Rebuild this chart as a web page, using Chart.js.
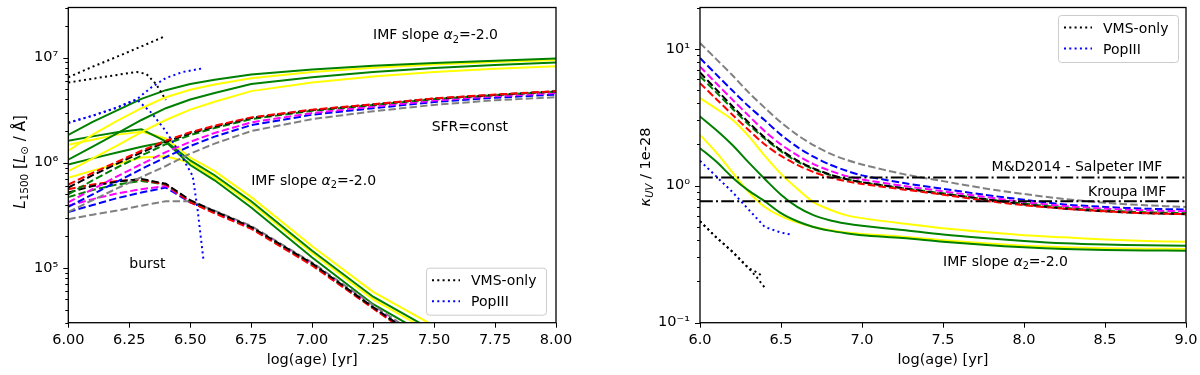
<!DOCTYPE html>
<html>
<head>
<meta charset="utf-8">
<script src="https://cdn.jsdelivr.net/npm/chart.js@4.4.0/dist/chart.umd.min.js"></script>
<style>
  html, body { margin: 0; padding: 0; background: #fff; }
  #wrap { position: relative; width: 1200px; height: 375px; }
  canvas { position: absolute; top: 0; }
  #cL { left: 0; }
  #cR { left: 600px; }
</style>
</head>
<body>
<div id="wrap">
  <canvas id="cL" width="600" height="375"></canvas>
  <canvas id="cR" width="600" height="375"></canvas>
</div>
<script>
// ---------------- DATA : left panel (L1500) ----------------
const LEFT_X_TICKS = [6.0, 6.25, 6.5, 6.75, 7.0, 7.25, 7.5, 7.75, 8.0];
const LEFT_Y_TICKS = [3e4,4e4,5e4,6e4,7e4,8e4,9e4,1e5,2e5,3e5,4e5,5e5,6e5,7e5,8e5,9e5,
                      1e6,2e6,3e6,4e6,5e6,6e6,7e6,8e6,9e6,1e7,2e7,3e7];

const AGE_CONST = [6.0, 6.1, 6.2, 6.3, 6.4, 6.5, 6.6, 6.75, 7.0, 7.25, 7.5, 7.75, 8.0];
const L_CONST_RED     = [6.2e5, 8.0e5, 1.02e6, 1.3e6, 1.62e6, 1.95e6, 2.25e6, 2.7e6, 3.2e6, 3.6e6, 4.1e6, 4.45e6, 4.8e6];
const L_CONST_BLACK   = [5.8e5, 7.6e5, 9.8e5, 1.25e6, 1.58e6, 1.9e6, 2.2e6, 2.67e6, 3.17e6, 3.58e6, 4.07e6, 4.42e6, 4.78e6];
const L_CONST_GREEN   = [5.0e5, 6.8e5, 9.0e5, 1.17e6, 1.5e6, 1.83e6, 2.14e6, 2.6e6, 3.12e6, 3.54e6, 4.03e6, 4.4e6, 4.75e6];
const L_CONST_MAGENTA = [4.2e5, 5.6e5, 7.4e5, 9.7e5, 1.26e6, 1.58e6, 1.92e6, 2.42e6, 2.97e6, 3.42e6, 3.9e6, 4.28e6, 4.6e6];
const L_CONST_BLUE    = [3.8e5, 5.0e5, 6.6e5, 8.7e5, 1.13e6, 1.44e6, 1.77e6, 2.28e6, 2.86e6, 3.3e6, 3.78e6, 4.15e6, 4.45e6];
const L_CONST_GRAY    = [3.4e5, 4.4e5, 5.7e5, 7.3e5, 9.3e5, 1.22e6, 1.52e6, 2.0e6, 2.6e6, 3.08e6, 3.55e6, 3.93e6, 4.2e6];
const L_CONST_GREEN_A  = [1.84e6, 2.45e6, 3.15e6, 4.05e6, 4.9e6, 5.6e6, 6.15e6, 6.9e6, 7.7e6, 8.35e6, 8.9e6, 9.35e6, 9.8e6];
const L_CONST_YELLOW_A = [1.3e6, 1.85e6, 2.5e6, 3.3e6, 4.2e6, 4.95e6, 5.55e6, 6.35e6, 7.3e6, 8.0e6, 8.6e6, 9.1e6, 9.5e6];
const L_CONST_GREEN_B  = [1.07e6, 1.42e6, 1.9e6, 2.55e6, 3.3e6, 4.0e6, 4.6e6, 5.6e6, 6.5e6, 7.3e6, 7.95e6, 8.5e6, 9.0e6];
const L_CONST_YELLOW_B = [8.3e5, 1.1e6, 1.45e6, 1.95e6, 2.55e6, 3.2e6, 3.8e6, 4.8e6, 5.8e6, 6.6e6, 7.3e6, 7.85e6, 8.3e6];

const AGE_BURST = [6.0, 6.1, 6.2, 6.3, 6.4, 6.5, 6.6, 6.75, 7.0, 7.25, 7.5];
const L_BURST_RED     = [5.6e5, 6.2e5, 6.7e5, 6.9e5, 6.2e5, 4.2e5, 3.3e5, 2.35e5, 1.05e5, 4.1e4, 1.6e4];
const L_BURST_BLACK   = [5.2e5, 6.0e5, 6.6e5, 7.0e5, 6.3e5, 4.4e5, 3.45e5, 2.45e5, 1.1e5, 4.2e4, 1.7e4];
const L_BURST_GREEN   = [4.7e5, 5.5e5, 6.2e5, 6.7e5, 6.2e5, 4.3e5, 3.4e5, 2.4e5, 1.08e5, 4.15e4, 1.65e4];
const L_BURST_MAGENTA = [3.9e5, 4.5e5, 5.1e5, 5.6e5, 6.0e5, 4.3e5, 3.4e5, 2.4e5, 1.08e5, 4.2e4, 1.7e4];
const L_BURST_BLUE    = [3.4e5, 3.95e5, 4.6e5, 5.2e5, 5.8e5, 4.2e5, 3.35e5, 2.4e5, 1.08e5, 4.2e4, 1.7e4];
const L_BURST_GRAY    = [2.9e5, 3.2e5, 3.5e5, 3.9e5, 4.3e5, 4.3e5, 3.5e5, 2.5e5, 1.12e5, 4.4e4, 1.8e4];
const L_BURST_GREEN_1  = [1.62e6, 1.78e6, 1.95e6, 2.08e6, 1.6e6, 1.05e6, 7.6e5, 4.3e5, 1.45e5, 5.3e4, 2.5e4];
const L_BURST_YELLOW_1 = [1.48e6, 1.65e6, 1.85e6, 1.97e6, 1.7e6, 1.12e6, 8.3e5, 4.7e5, 1.6e5, 5.9e4, 2.8e4];
const L_BURST_GREEN_2  = [9.6e5, 1.1e6, 1.25e6, 1.42e6, 1.58e6, 9.5e5, 6.8e5, 3.75e5, 1.25e5, 4.5e4, 2.1e4];
const L_BURST_YELLOW_2 = [7.2e5, 8.4e5, 9.7e5, 1.12e6, 1.15e6, 1.0e6, 7.2e5, 4.1e5, 1.38e5, 5.0e4, 2.35e4];

const AGE_VMS_CONST = [6.0, 6.1, 6.2, 6.3, 6.4];
const L_VMS_CONST   = [6.5e6, 8.2e6, 1.02e7, 1.28e7, 1.61e7];
const AGE_VMS_BURST = [6.0, 6.1, 6.2, 6.28, 6.32, 6.36, 6.4];
const L_VMS_BURST   = [5.8e6, 6.3e6, 6.85e6, 7.3e6, 7.0e6, 5.6e6, 3.95e6];
const AGE_POP_CONST = [6.0, 6.1, 6.2, 6.28, 6.34, 6.4, 6.47, 6.55];
const L_POP_CONST   = [2.4e6, 2.8e6, 3.35e6, 4.0e6, 5.2e6, 6.4e6, 7.3e6, 7.9e6];
const AGE_POP_BURST = [6.0, 6.1, 6.2, 6.28, 6.34, 6.4, 6.46, 6.51, 6.53, 6.555];
const L_POP_BURST   = [2.4e6, 2.8e6, 3.35e6, 4.0e6, 3.0e6, 2.0e6, 1.2e6, 7.5e5, 3.6e5, 1.15e5];

// ---------------- DATA : right panel (kappa_UV / 1e-28) ----------------
const RIGHT_X_TICKS = [6.0, 6.5, 7.0, 7.5, 8.0, 8.5, 9.0];
const RIGHT_Y_TICKS = [0.1,0.2,0.3,0.4,0.5,0.6,0.7,0.8,0.9,1,2,3,4,5,6,7,8,9,10,20];
const AGE_K = [6.0, 6.1, 6.2, 6.3, 6.4, 6.5, 6.6, 6.7, 6.8, 6.9, 7.0, 7.25, 7.5, 7.75, 8.0, 8.25, 8.5, 8.75, 9.0];
const K_RED     = [5.6, 4.3, 3.3, 2.55, 2.0, 1.65, 1.42, 1.26, 1.15, 1.08, 1.03, 0.94, 0.86, 0.78, 0.72, 0.68, 0.65, 0.63, 0.62];
const K_GREEN   = [6.3, 4.8, 3.65, 2.8, 2.2, 1.78, 1.5, 1.32, 1.2, 1.12, 1.06, 0.96, 0.88, 0.80, 0.74, 0.69, 0.66, 0.64, 0.63];
const K_BLACK   = [6.7, 5.05, 3.8, 2.9, 2.25, 1.82, 1.53, 1.34, 1.21, 1.12, 1.06, 0.96, 0.87, 0.80, 0.73, 0.68, 0.65, 0.63, 0.62];
const K_MAGENTA = [7.4, 5.6, 4.25, 3.25, 2.5, 2.0, 1.67, 1.44, 1.29, 1.18, 1.11, 1.0, 0.91, 0.83, 0.76, 0.71, 0.68, 0.66, 0.65];
const K_BLUE    = [8.55, 6.5, 4.95, 3.8, 3.0, 2.35, 1.92, 1.63, 1.43, 1.29, 1.19, 1.05, 0.95, 0.86, 0.79, 0.73, 0.70, 0.68, 0.67];
const K_GRAY    = [11, 8.4, 6.4, 4.8, 3.7, 2.9, 2.35, 1.98, 1.72, 1.55, 1.43, 1.22, 1.08, 0.96, 0.87, 0.80, 0.75, 0.72, 0.70];
const K_YELLOW_1 = [4.37, 3.65, 3.03, 2.3, 1.65, 1.22, 0.95, 0.76, 0.67, 0.61, 0.58, 0.53, 0.49, 0.46, 0.435, 0.42, 0.405, 0.395, 0.39];
const K_GREEN_1  = [3.2, 2.55, 1.98, 1.48, 1.12, 0.86, 0.70, 0.61, 0.56, 0.53, 0.51, 0.475, 0.44, 0.415, 0.395, 0.38, 0.372, 0.368, 0.365];
const K_YELLOW_2 = [2.35, 1.75, 1.25, 0.9, 0.7, 0.6, 0.54, 0.5, 0.475, 0.455, 0.445, 0.425, 0.4, 0.38, 0.365, 0.355, 0.35, 0.347, 0.345];
const K_GREEN_2  = [1.88, 1.5, 1.15, 0.92, 0.77, 0.63, 0.55, 0.5, 0.47, 0.45, 0.435, 0.415, 0.39, 0.37, 0.355, 0.345, 0.34, 0.337, 0.335];
const AGE_K_VMS_1 = [6.0, 6.1, 6.2, 6.3, 6.36, 6.38];
const K_VMS_1     = [0.55, 0.42, 0.33, 0.25, 0.23, 0.22];
const AGE_K_VMS_2 = [6.0, 6.1, 6.2, 6.3, 6.35, 6.4];
const K_VMS_2     = [0.55, 0.42, 0.33, 0.25, 0.215, 0.18];
const AGE_K_POP = [6.0, 6.1, 6.2, 6.3, 6.4, 6.5, 6.56];
const K_POP     = [1.52, 1.17, 0.9, 0.67, 0.5, 0.455, 0.44];
const AGE_REF   = [6.0, 9.0];
const K_SALPETER = [1.15, 1.15];
const K_KROUPA   = [0.77, 0.77];

// ---------------- helpers ----------------
const FONT = 'DejaVu Sans';
const FS = 14.5;   // axis font size
const TS = 14;     // annotation / legend font size
const DASH = [7.4, 3.2], DOT = [2, 3.3], DASHDOT = [12.8, 3.2, 2, 3.2];
const COL = { red:'#ff0000', black:'#000000', green:'#008000', magenta:'#ff00ff', blue:'#0000ff',
              gray:'#808080', yellow:'#ffff00' };
function pts(xs, ys) { return xs.map((x, i) => ({ x: x, y: ys[i] })); }
function ds(xs, ys, color, dash, extra) {
  return Object.assign({ data: pts(xs, ys), borderColor: color, backgroundColor: color,
    borderDash: dash || [], borderWidth: 2, pointRadius: 0, fill: false, tension: 0,
    borderCapStyle: 'butt', clip: 0 }, extra || {});
}
const isMajor = v => Math.abs(Math.log10(v) - Math.round(Math.log10(v))) < 1e-9;
const SUP = {'-':'⁻','0':'⁰','1':'¹','2':'²','3':'³','4':'⁴','5':'⁵','6':'⁶','7':'⁷','8':'⁸','9':'⁹'};
const powLabel = v => '10' + String(Math.round(Math.log10(v))).split('').map(c => SUP[c]).join('');

function drawRich(ctx, segs, x, y, align, base) {
  const b = base || TS;
  let total = 0;
  const fnt = s => (s.it ? 'italic ' : '') + (s.sub ? b * 0.7 : b) + 'px "' + FONT + '"';
  segs.forEach(s => { ctx.font = fnt(s); s.w = ctx.measureText(s.t).width; total += s.w; });
  let cx = align === 'center' ? x - total / 2 : x;
  ctx.textBaseline = 'alphabetic'; ctx.textAlign = 'left'; ctx.fillStyle = '#000';
  segs.forEach(s => { ctx.font = fnt(s); ctx.fillText(s.t, cx, y + (s.sub ? b * 0.22 : 0)); cx += s.w; });
}
const IMF_TEXT = [{t:'IMF slope '}, {t:'α', it:true}, {t:'2', sub:true}, {t:'=-2.0'}];

const decorPlugin = {
  id: 'decor',
  afterDatasetsDraw(chart, args, opts) {
    const ctx = chart.ctx, a = chart.chartArea, xs = chart.scales.x, ys = chart.scales.y;
    ctx.save();
    (opts.texts || []).forEach(tx => {
      drawRich(ctx, tx.segs, xs.getPixelForValue(tx.x), ys.getPixelForValue(tx.y), 'left');
    });
    if (opts.legend) {
      const L = opts.legend;
      const items = chart.data.datasets.filter(d => d.showInLegend);
      const w = 120, h = 47;
      const bx = a.right - L.right - w;
      const by = L.top !== undefined ? a.top + L.top : a.bottom - L.bottom - h;
      ctx.beginPath();
      ctx.roundRect(bx + 0.5, by + 0.5, w, h, 3);
      ctx.fillStyle = 'rgba(255,255,255,0.8)'; ctx.fill();
      ctx.strokeStyle = '#cccccc'; ctx.lineWidth = 1; ctx.stroke();
      items.forEach((d, i) => {
        const yy = by + 12.5 + i * 21;
        ctx.beginPath(); ctx.setLineDash(d.borderDash); ctx.strokeStyle = d.borderColor; ctx.lineWidth = 2;
        ctx.moveTo(bx + 6, yy); ctx.lineTo(bx + 34, yy); ctx.stroke(); ctx.setLineDash([]);
        drawRich(ctx, [{t: d.label}], bx + 45, yy + 5, 'left');
      });
    }
    ctx.strokeStyle = '#000'; ctx.lineWidth = 1.3;
    ctx.strokeRect(a.left, a.top, a.right - a.left, a.bottom - a.top);
    ctx.lineWidth = 1;
    xs.ticks.forEach(t => {
      const px = Math.round(xs.getPixelForValue(t.value)) + 0.5;
      ctx.beginPath(); ctx.moveTo(px, a.bottom); ctx.lineTo(px, a.bottom + 5); ctx.stroke();
    });
    ys.ticks.forEach(t => {
      const py = Math.round(ys.getPixelForValue(t.value)) + 0.5;
      const len = isMajor(t.value) ? 5 : 3;
      ctx.beginPath(); ctx.moveTo(a.left - len, py); ctx.lineTo(a.left, py); ctx.stroke();
    });
    ctx.translate(opts.yTitleX, opts.yTitleY);
    ctx.rotate(-Math.PI / 2);
    drawRich(ctx, opts.yTitle, 0, 5, 'center', opts.yTitleSize);
    ctx.restore();
  }
};

function makeOptions(cfg) {
  return {
    responsive: false, animation: false, devicePixelRatio: 1,
    layout: { padding: { left: 0, right: cfg.padRight, top: 7.5, bottom: 0 } },
    plugins: { legend: { display: false }, tooltip: { enabled: false },
               decor: { texts: cfg.texts, legend: cfg.legend, yTitle: cfg.yTitle, yTitleX: cfg.yTitleX,
                        yTitleY: cfg.yTitleY, yTitleSize: cfg.yTitleSize } },
    scales: {
      x: {
        type: 'linear', min: cfg.xmin, max: cfg.xmax, bounds: 'data',
        afterBuildTicks: s => { s.ticks = cfg.xticks.map(v => ({ value: v })); },
        border: { display: false }, grid: { display: false, drawTicks: false },
        ticks: { color: '#000', font: { family: FONT, size: FS }, padding: 9, maxRotation: 0, autoSkip: false,
                 callback: v => v.toFixed(cfg.xdec) },
        title: { display: true, text: 'log(age) [yr]', color: '#000', font: { family: FONT, size: FS },
                 padding: { top: 0, bottom: 6 } },
        afterFit: s => { s.height = 52.3; s.paddingLeft = 0; s.paddingRight = 0; }
      },
      y: {
        type: 'logarithmic', min: cfg.ymin, max: cfg.ymax, bounds: 'data',
        afterBuildTicks: s => { s.ticks = cfg.yticks.map(v => ({ value: v, major: isMajor(v) })); },
        border: { display: false }, grid: { display: false, drawTicks: false },
        ticks: { color: '#000', font: { family: FONT, size: FS }, padding: 10, autoSkip: false,
                 callback: v => isMajor(v) ? powLabel(v) : '' },
        afterFit: s => { s.width = cfg.yWidth; s.paddingTop = 0; s.paddingBottom = 0; }
      }
    }
  };
}

// ---------------- left chart ----------------
new Chart(document.getElementById('cL'), {
  type: 'line',
  data: { datasets: [
    ds(AGE_VMS_CONST, L_VMS_CONST, COL.black, DOT, { label: 'VMS-only', showInLegend: true }),
    ds(AGE_VMS_BURST, L_VMS_BURST, COL.black, DOT),
    ds(AGE_POP_CONST, L_POP_CONST, COL.blue, DOT, { label: 'PopIII', showInLegend: true }),
    ds(AGE_POP_BURST, L_POP_BURST, COL.blue, DOT),
    ds(AGE_CONST, L_CONST_RED, COL.red, DASH),
    ds(AGE_CONST, L_CONST_BLACK, COL.black, DASH),
    ds(AGE_CONST, L_CONST_GREEN, COL.green, DASH),
    ds(AGE_CONST, L_CONST_MAGENTA, COL.magenta, DASH),
    ds(AGE_CONST, L_CONST_BLUE, COL.blue, DASH),
    ds(AGE_CONST, L_CONST_GRAY, COL.gray, DASH),
    ds(AGE_BURST, L_BURST_BLACK, COL.black, DASH),
    ds(AGE_BURST, L_BURST_RED, COL.red, DASH),
    ds(AGE_BURST, L_BURST_GREEN, COL.green, DASH),
    ds(AGE_BURST, L_BURST_MAGENTA, COL.magenta, DASH),
    ds(AGE_BURST, L_BURST_BLUE, COL.blue, DASH),
    ds(AGE_BURST, L_BURST_GRAY, COL.gray, DASH),
    ds(AGE_CONST, L_CONST_GREEN_A, COL.green),
    ds(AGE_CONST, L_CONST_YELLOW_A, COL.yellow),
    ds(AGE_CONST, L_CONST_GREEN_B, COL.green),
    ds(AGE_CONST, L_CONST_YELLOW_B, COL.yellow),
    ds(AGE_BURST, L_BURST_GREEN_2, COL.green),
    ds(AGE_BURST, L_BURST_GREEN_1, COL.green),
    ds(AGE_BURST, L_BURST_YELLOW_2, COL.yellow),
    ds(AGE_BURST, L_BURST_YELLOW_1, COL.yellow)
  ] },
  options: makeOptions({
    xmin: 6, xmax: 8, xticks: LEFT_X_TICKS, xdec: 2, ymin: 3e4, ymax: 3e7, yticks: LEFT_Y_TICKS,
    yWidth: 68.3, padRight: 44,
    yTitleX: 20, yTitleY: 162, yTitleSize: 15,
    yTitle: [{t:'L', it:true}, {t:'1500', sub:true}, {t:' ['}, {t:'L', it:true}, {t:'⊙', sub:true},
             {t:' / '}, {t:'Å'}, {t:']'}],
    legend: { right: 10, bottom: 8 },
    texts: [
      { x: 7.25, y: 1.49e7, segs: IMF_TEXT },
      { x: 7.49, y: 1.99e6, segs: [{t:'SFR=const'}] },
      { x: 6.75, y: 6.1e5, segs: IMF_TEXT },
      { x: 6.25, y: 9.9e4, segs: [{t:'burst'}] }
    ]
  }),
  plugins: [decorPlugin]
});

// ---------------- right chart ----------------
new Chart(document.getElementById('cR'), {
  type: 'line',
  data: { datasets: [
    ds(AGE_K_VMS_1, K_VMS_1, COL.black, DOT, { label: 'VMS-only', showInLegend: true }),
    ds(AGE_K_VMS_2, K_VMS_2, COL.black, DOT),
    ds(AGE_K_POP, K_POP, COL.blue, DOT, { label: 'PopIII', showInLegend: true }),
    ds(AGE_REF, K_SALPETER, COL.black, DASHDOT),
    ds(AGE_REF, K_KROUPA, COL.black, DASHDOT),
    ds(AGE_K, K_RED, COL.red, DASH, { tension: 0.3 }),
    ds(AGE_K, K_BLACK, COL.black, DASH, { tension: 0.3 }),
    ds(AGE_K, K_GREEN, COL.green, DASH, { tension: 0.3 }),
    ds(AGE_K, K_MAGENTA, COL.magenta, DASH, { tension: 0.3 }),
    ds(AGE_K, K_BLUE, COL.blue, DASH, { tension: 0.3 }),
    ds(AGE_K, K_GRAY, COL.gray, DASH, { tension: 0.3 }),
    ds(AGE_K, K_GREEN_2, COL.green, [], { tension: 0.3 }),
    ds(AGE_K, K_YELLOW_2, COL.yellow, [], { tension: 0.3 }),
    ds(AGE_K, K_GREEN_1, COL.green, [], { tension: 0.3 }),
    ds(AGE_K, K_YELLOW_1, COL.yellow, [], { tension: 0.3 })
  ] },
  options: makeOptions({
    xmin: 6, xmax: 9, xticks: RIGHT_X_TICKS, xdec: 1, ymin: 0.1, ymax: 20, yticks: RIGHT_Y_TICKS,
    yWidth: 100, padRight: 14,
    yTitleX: 45, yTitleY: 167, yTitleSize: 14.5,
    yTitle: [{t:'κ', it:true}, {t:'UV', sub:true, it:true}, {t:' / 1e-28'}],
    legend: { right: 8, top: 7.5 },
    texts: [
      { x: 7.80, y: 1.29, segs: [{t:'M&D2014 - Salpeter IMF'}] },
      { x: 8.395, y: 0.845, segs: [{t:'Kroupa IMF'}] },
      { x: 7.5, y: 0.26, segs: IMF_TEXT }
    ]
  }),
  plugins: [decorPlugin]
});
</script>
</body>
</html>
